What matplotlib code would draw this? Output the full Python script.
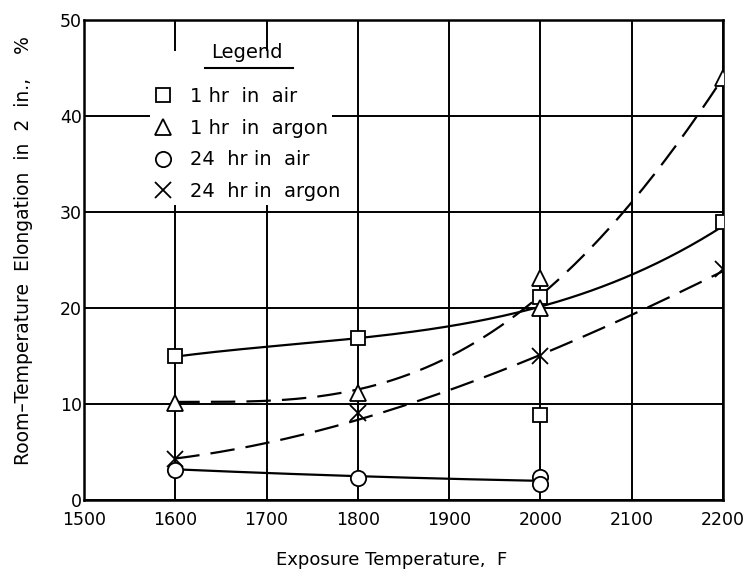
import numpy as np
import matplotlib
matplotlib.use("Agg")
import matplotlib.pyplot as plt
from matplotlib.patches import Rectangle

# measured points
air1_x = [1600, 1800, 2000, 2000, 2200]
air1_y = [15.0, 16.9, 21.1, 8.9, 29.0]
argon1_x = [1600, 1800, 2000, 2000, 2200]
argon1_y = [10.1, 11.1, 23.1, 20.0, 44.0]
air24_x = [1600, 1800, 2000, 2000]
air24_y = [3.1, 2.3, 2.4, 1.7]
argon24_x = [1600, 1800, 2000, 2200]
argon24_y = [4.3, 9.1, 15.0, 24.1]

# faired curves
curve_t = [1600, 1700, 1800, 1900, 2000, 2100, 2200]
air1_curve = [15.0, 15.8, 16.9, 18.2, 20.2, 23.3, 28.6]
argon1_curve = [10.2, 10.4, 11.4, 15.0, 21.3, 31.0, 44.0]
argon24_curve = [4.3, 6.0, 8.3, 11.5, 15.0, 19.4, 23.8]
air24_t = [1600, 1700, 1800, 1900, 2000]
air24_curve = [3.2, 2.8, 2.5, 2.2, 2.0]

labels = ["1 hr  in  air", "1 hr  in  argon", "24  hr in  air", "24  hr in  argon"]
xticks = [1500, 1600, 1700, 1800, 1900, 2000, 2100, 2200]
yticks = [0, 10, 20, 30, 40, 50]

plt.rcParams['font.family'] = 'DejaVu Sans'

fig = plt.figure(figsize=(7.54, 5.73), dpi=100)
ax = fig.add_axes([0.1114, 0.1274, 0.8475, 0.8377])


def smooth(t, v, deg=3):
    p = np.polyfit(t, v, deg)
    tt = np.linspace(min(t), max(t), 200)
    return tt, np.polyval(p, tt)


lw = 1.6
tt, vv = smooth(curve_t, air1_curve)
ax.plot(tt, vv, color='black', lw=lw, zorder=3)
tt, vv = smooth(curve_t, argon1_curve, 4)
ax.plot(tt, vv, color='black', lw=lw, dashes=(11, 5), zorder=3)
tt, vv = smooth(curve_t, argon24_curve)
ax.plot(tt, vv, color='black', lw=lw, dashes=(11, 5), zorder=3)
tt, vv = smooth(air24_t, air24_curve, 2)
ax.plot(tt, vv, color='black', lw=lw, zorder=3)

mk = dict(linestyle='none', markerfacecolor='white', markeredgecolor='black',
          markeredgewidth=1.3, zorder=4)
h1, = ax.plot(air1_x, air1_y, marker='s', markersize=10, label=labels[0], **mk)
h2, = ax.plot(argon1_x, argon1_y, marker='^', markersize=11, label=labels[1], **mk)
h3, = ax.plot(air24_x, air24_y, marker='o', markersize=11, label=labels[2], **mk)
h4, = ax.plot(argon24_x, argon24_y, marker='x', markersize=11, label=labels[3],
              linestyle='none', color='black', markeredgewidth=1.3, zorder=4)

ax.set_xlim(1500, 2200)
ax.set_ylim(0, 50)
ax.set_xticks(xticks)
ax.set_yticks(yticks)
ax.grid(True, color='black', lw=1.4)
ax.set_axisbelow(True)
ax.tick_params(length=0, labelsize=12.5)
ax.tick_params(axis='x', pad=8)
ax.tick_params(axis='y', pad=1.5)
for s in ax.spines.values():
    s.set_linewidth(1.8)

ax.set_xlabel('Exposure Temperature,  F', fontsize=13)
ax.xaxis.set_label_coords(0.482, -0.106)
ax.set_ylabel('Room\u2013Temperature  Elongation  in  2  in.,    %', fontsize=13.5)
ax.yaxis.set_label_coords(-0.080, 0.52)

# blank patch behind the legend
ax.add_patch(Rectangle((0.103, 0.615), 0.285, 0.32, transform=ax.transAxes,
                       facecolor='white', edgecolor='none', zorder=2))

ax.text(0.255, 0.933, 'Legend', transform=ax.transAxes, fontsize=14,
        ha='center', va='center', zorder=6)
ax.plot([0.189, 0.327], [0.900, 0.900], transform=ax.transAxes, color='black',
        lw=1.5, zorder=6)

leg = ax.legend(handles=[h1, h2, h3, h4], loc='upper left',
                bbox_to_anchor=(0.1025, 0.869), fontsize=14, frameon=False,
                handletextpad=0.89, labelspacing=0.66, borderpad=0.2,
                handlelength=1.0, borderaxespad=0)
leg.set_zorder(6)

fig.savefig('out.png', dpi=100)
